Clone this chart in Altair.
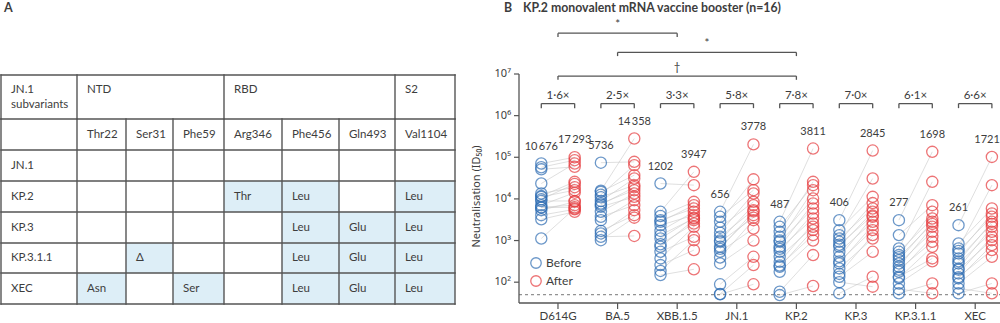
import altair as alt
import pandas as pd

# ---------------- data: panel B ----------------
variants = ["D614G", "BA.5", "XBB.1.5", "JN.1", "KP.2", "KP.3", "KP.3.1.1", "XEC"]
gmt_before = [10676, 5736, 1202, 656, 487, 406, 277, 261]
gmt_after = [17293, 14358, 3947, 3778, 3811, 2845, 1698, 1721]
fold_change = ["1·6×", "2·5×", "3·3×", "5·8×", "7·8×", "7·0×", "6·1×", "6·6×"]

before_d614g = [70800, 57500, 51300, 23400, 13500, 11700, 11200, 9770, 8910, 7080, 6310, 6170, 5370, 4070, 3240, 1120]
after_d614g = [100000, 85100, 58900, 70800, 19100, 25700, 16200, 22900, 8910, 14100, 7080, 6310, 8510, 5620, 4900, 5890]
before_ba5 = [74100, 15800, 14800, 12600, 11000, 8910, 7760, 7240, 6460, 4900, 3720, 3090, 1700, 1480, 1230, 1020]
after_ba5 = [77600, 282000, 37200, 64600, 21400, 30900, 16200, 19100, 11200, 13500, 7080, 9330, 4070, 5370, 1290, 3550]
before_xbb = [23400, 4900, 3890, 3090, 2820, 2340, 1700, 1350, 1120, 813, 708, 537, 372, 257, 186, 148]
after_xbb = [21400, 44700, 8510, 5890, 7080, 4070, 4900, 3390, 3550, 2570, 3090, 1230, 2140, 589, 1020, 204]
before_jn1 = [4900, 3720, 2820, 2040, 1550, 1230, 1000, 933, 708, 631, 537, 389, 282, 89, 52, 51]
after_jn1 = [204000, 16200, 29500, 8510, 13500, 5370, 7080, 3550, 4070, 5010, 1950, 3090, 1000, 407, 257, 89]
before_kp2 = [2820, 2140, 1620, 1230, 1000, 933, 708, 631, 537, 407, 309, 251, 234, 178, 59, 49]
after_kp2 = [162000, 21400, 25700, 10200, 16200, 5890, 7760, 3390, 4470, 2140, 2570, 1350, 1780, 1000, 447, 81]
before_kp3 = [3090, 1780, 1350, 1120, 933, 794, 708, 537, 407, 316, 282, 214, 158, 135, 100, 54]
after_kp3 = [145000, 11200, 30900, 5890, 7940, 3980, 4900, 2820, 3720, 1780, 2340, 1120, 1350, 537, 78, 135]
before_kp311 = [3090, 1350, 646, 537, 447, 398, 339, 282, 234, 200, 178, 135, 126, 93, 68, 54]
after_kp311 = [135000, 7080, 25700, 3390, 4900, 2510, 2820, 1620, 2140, 933, 1230, 372, 708, 316, 54, 93]
before_xec = [2340, 851, 646, 562, 490, 372, 316, 282, 214, 200, 162, 132, 123, 93, 71, 54]
after_xec = [102000, 5890, 21400, 3720, 4470, 2510, 2820, 1620, 2140, 1020, 1230, 589, 776, 407, 54, 93]

before_values = [before_d614g, before_ba5, before_xbb, before_jn1, before_kp2, before_kp3, before_kp311, before_xec]
after_values = [after_d614g, after_ba5, after_xbb, after_jn1, after_kp2, after_kp3, after_kp311, after_xec]

detection_limit = 50
y_tick_exponents = [2, 3, 4, 5, 6, 7]
y_title = "Neutralisation (ID₅₀)"
comp_from = ["D614G", "BA.5", "D614G"]
comp_to = ["XBB.1.5", "KP.2", "KP.2"]
comp_mark = ["*", "*", "†"]

# ---------------- data: panel A ----------------
table_rows = ["JN.1", "KP.2", "KP.3", "KP.3.1.1", "XEC"]
table_positions = ["Thr22", "Ser31", "Phe59", "Arg346", "Phe456", "Gln493", "Val1104"]
table_regions = ["NTD", "RBD", "S2"]
region_span = [3, 3, 1]
mut_jn1 = ["", "", "", "", "", "", ""]
mut_kp2 = ["", "", "", "Thr", "Leu", "", "Leu"]
mut_kp3 = ["", "", "", "", "Leu", "Glu", "Leu"]
mut_kp311 = ["", "Δ", "", "", "Leu", "Glu", "Leu"]
mut_xec = ["Asn", "", "Ser", "", "Leu", "Glu", "Leu"]
mutations = [mut_jn1, mut_kp2, mut_kp3, mut_kp311, mut_xec]

# ---------------- layout & style ----------------
PAGE_W, PAGE_H = 1000, 323
PLOT_LEFT, PLOT_RIGHT, PLOT_TOP, PLOT_BOTTOM = 519, 1000, 74, 303
X_DOMAIN = [-0.654, 7.416]
Y_DOMAIN = [10 ** 1.5, 1e7]
DODGE = 0.28
FOLD_LEVEL, FOLD_FOOT, FOLD_TEXT = 6.29, 6.18, 6.47
COMP_LEVELS = [7.98, 7.52, 6.95]
COMP_FOOT, COMP_TEXT = 0.09, 0.2

TABLE_LEFT, TABLE_TOP = 1, 75
col_widths = [76, 49, 47, 51, 58, 57, 56, 60]
row_heights = [44, 31, 31, 31, 31, 30, 31]
CELL_PAD = 10
HEADER_PAD = 9

BLUE = "#2f6db3"
RED = "#e63a3d"
TEXT = "#3d3d3d"
LINE = "#555555"
SHADE = "#ddeef7"
FONT = "Lato"
SUPFONT = "Noto Sans"
FS = 11.5

# ---------------- panel A (table) ----------------
col_edges = [0]
for w in col_widths:
    col_edges.append(col_edges[-1] + w)
row_edges = [0]
for h in row_heights:
    row_edges.append(row_edges[-1] + h)

tx = alt.Scale(domain=[0, col_edges[-1]], range=[TABLE_LEFT, TABLE_LEFT + col_edges[-1]], nice=False, zero=False)
ty = alt.Scale(domain=[0, row_edges[-1]], range=[TABLE_TOP, TABLE_TOP + row_edges[-1]], nice=False, zero=False)

shade_rows, cell_rows = [], []
for c, p in enumerate(table_positions):
    cell_rows.append(dict(x=col_edges[c + 1] + CELL_PAD, y=(row_edges[1] + row_edges[2]) / 2, t=p))
for r, name in enumerate(table_rows):
    yc = (row_edges[r + 2] + row_edges[r + 3]) / 2
    cell_rows.append(dict(x=col_edges[0] + CELL_PAD, y=yc, t=name))
    for c, m in enumerate(mutations[r]):
        if m:
            shade_rows.append(dict(x0=col_edges[c + 1], x1=col_edges[c + 2], y0=row_edges[r + 2], y1=row_edges[r + 3]))
            cell_rows.append(dict(x=col_edges[c + 1] + CELL_PAD, y=yc, t=m))

head_rows = [dict(x=col_edges[0] + CELL_PAD, y=row_edges[0] + HEADER_PAD, t="JN.1\nsubvariants")]
group_edges = [0]
k = 0
for reg, span in zip(table_regions, region_span):
    head_rows.append(dict(x=col_edges[k + 1] + CELL_PAD, y=row_edges[0] + HEADER_PAD, t=reg))
    group_edges.append(k + 1)
    k += span
group_edges.append(len(col_edges) - 1)

line_rows = []
for ye in row_edges:
    line_rows.append(dict(x=0, x2=col_edges[-1], y=ye, y2=ye))
for gi in group_edges:
    line_rows.append(dict(x=col_edges[gi], x2=col_edges[gi], y=row_edges[0], y2=row_edges[1]))
for xe in col_edges:
    line_rows.append(dict(x=xe, x2=xe, y=row_edges[1], y2=row_edges[-1]))

shade = alt.Chart(pd.DataFrame(shade_rows)).mark_rect(fill=SHADE).encode(
    x=alt.X("x0:Q", scale=tx, axis=None), x2="x1:Q",
    y=alt.Y("y0:Q", scale=ty, axis=None), y2="y1:Q")
grid = alt.Chart(pd.DataFrame(line_rows)).mark_rule(color=LINE, strokeWidth=1.4, strokeCap="square").encode(
    x=alt.X("x:Q", scale=tx, axis=None), x2="x2:Q",
    y=alt.Y("y:Q", scale=ty, axis=None), y2="y2:Q")
cells = alt.Chart(pd.DataFrame(cell_rows)).mark_text(
    align="left", baseline="middle", font=FONT, fontSize=FS, color=TEXT).encode(
    x=alt.X("x:Q", scale=tx, axis=None), y=alt.Y("y:Q", scale=ty, axis=None), text="t:N")
heads = alt.Chart(pd.DataFrame(head_rows)).mark_text(
    align="left", baseline="top", font=FONT, fontSize=FS, color=TEXT, lineBreak="\n", lineHeight=15).encode(
    x=alt.X("x:Q", scale=tx, axis=None), y=alt.Y("y:Q", scale=ty, axis=None), text="t:N")
letter_a = alt.Chart(pd.DataFrame({"t": ["A"]})).mark_text(
    align="left", baseline="middle", font=FONT, fontSize=12.5, fontWeight="bold", color=TEXT).encode(
    x=alt.value(4), y=alt.value(8), text="t:N")
table_layer = alt.layer(shade, grid, cells, heads, letter_a)

# ---------------- panel B (plot) ----------------
xs = alt.Scale(domain=X_DOMAIN, range=[PLOT_LEFT, PLOT_RIGHT], nice=False, zero=False)
ys = alt.Scale(type="log", domain=Y_DOMAIN, range=[PLOT_BOTTOM, PLOT_TOP], nice=False)


def fmt(n):
    return f"{n // 1000}\u2009{n % 1000:03d}" if n >= 10000 else str(n)


pts, pairs, labs, folds, feet, brackets = [], [], [], [], [], []
last = len(variants) - 1
for i, v in enumerate(variants):
    b, a = before_values[i], after_values[i]
    for vb, va in zip(b, a):
        pts.append(dict(xpos=i - DODGE, value=vb, when="Before"))
        pts.append(dict(xpos=i + DODGE, value=va, when="After"))
        pairs.append(dict(x0=i - DODGE, x1=i + DODGE, v0=vb, v1=va))
    labs.append(dict(xpos=i - DODGE, value=max(b), t=fmt(gmt_before[i]), edge=False))
    labs.append(dict(xpos=i + DODGE, value=max(a), t=fmt(gmt_after[i]), edge=(i == last)))
    folds.append(dict(xc=i, y=10 ** FOLD_TEXT, t=fold_change[i]))
    brackets.append(dict(x=i - DODGE, x2=i + DODGE, y=10 ** FOLD_LEVEL, y2=10 ** FOLD_LEVEL))
    for s in (-1, 1):
        feet.append(dict(x=i + s * DODGE, x2=i + s * DODGE, y=10 ** FOLD_LEVEL, y2=10 ** FOLD_FOOT))

comp_text = []
for f, t, m, lvl in zip(comp_from, comp_to, comp_mark, COMP_LEVELS):
    i0, i1 = variants.index(f), variants.index(t)
    brackets.append(dict(x=i0, x2=i1, y=10 ** lvl, y2=10 ** lvl))
    for xi in (i0, i1):
        feet.append(dict(x=xi, x2=xi, y=10 ** lvl, y2=10 ** (lvl - COMP_FOOT)))
    comp_text.append(dict(xc=(i0 + i1) / 2, y=10 ** (lvl + COMP_TEXT), t=m))

# axes drawn from the scales
sup = {2: "²", 3: "³", 4: "⁴", 5: "⁵", 6: "⁶", 7: "⁷"}
axis_lines = pd.DataFrame([
    dict(x=X_DOMAIN[0], x2=X_DOMAIN[0], y=Y_DOMAIN[0], y2=Y_DOMAIN[1]),
    dict(x=X_DOMAIN[0], x2=X_DOMAIN[1], y=Y_DOMAIN[0], y2=Y_DOMAIN[0]),
])
y_ticks = pd.DataFrame([dict(x=X_DOMAIN[0], y=10 ** e, t="10" + sup[e]) for e in y_tick_exponents])
x_ticks = pd.DataFrame([dict(x=i, y=Y_DOMAIN[0], t=v) for i, v in enumerate(variants)])
y_title_df = pd.DataFrame([dict(x=X_DOMAIN[0], y=10 ** ((1.5 + 7) / 2), t=y_title)])

ax_lines = alt.Chart(axis_lines).mark_rule(color=LINE, strokeWidth=1.3).encode(
    x=alt.X("x:Q", scale=xs, axis=None), x2="x2:Q",
    y=alt.Y("y:Q", scale=ys, axis=None), y2="y2:Q")
yt_marks = alt.Chart(y_ticks).mark_rule(color=LINE, strokeWidth=1.2, x2Offset=-5).encode(
    x=alt.X("x:Q", scale=xs, axis=None), x2="x:Q", y=alt.Y("y:Q", scale=ys, axis=None))
yt_labels = alt.Chart(y_ticks).mark_text(
    align="right", baseline="middle", xOffset=-8, font=SUPFONT, fontSize=11, color=TEXT).encode(
    x=alt.X("x:Q", scale=xs, axis=None), y=alt.Y("y:Q", scale=ys, axis=None), text="t:N")
xt_marks = alt.Chart(x_ticks).mark_rule(color=LINE, strokeWidth=1.2, y2Offset=6).encode(
    x=alt.X("x:Q", scale=xs, axis=None), y=alt.Y("y:Q", scale=ys, axis=None), y2="y:Q")
xt_labels = alt.Chart(x_ticks).mark_text(
    align="center", baseline="middle", yOffset=14, font=FONT, fontSize=FS, color=TEXT).encode(
    x=alt.X("x:Q", scale=xs, axis=None), y=alt.Y("y:Q", scale=ys, axis=None), text="t:N")
y_title_mark = alt.Chart(y_title_df).mark_text(
    align="center", baseline="middle", angle=270, xOffset=-42, yOffset=8, font=SUPFONT, fontSize=11,
    color=TEXT).encode(
    x=alt.X("x:Q", scale=xs, axis=None), y=alt.Y("y:Q", scale=ys, axis=None), text="t:N")

dash = alt.Chart(pd.DataFrame({"x": [X_DOMAIN[0]], "x2": [X_DOMAIN[1]], "y": [detection_limit]})).mark_rule(
    color="#777777", strokeDash=[3, 3], strokeWidth=1).encode(
    x=alt.X("x:Q", scale=xs, axis=None), x2="x2:Q", y=alt.Y("y:Q", scale=ys, axis=None))
links = alt.Chart(pd.DataFrame(pairs)).mark_rule(color="#c9c9c9", strokeWidth=0.7, opacity=0.85).encode(
    x=alt.X("x0:Q", scale=xs, axis=None), x2="x1:Q",
    y=alt.Y("v0:Q", scale=ys, axis=None), y2="v1:Q")
points = alt.Chart(pd.DataFrame(pts)).mark_point(shape="circle", filled=False, size=125, strokeWidth=1.3).encode(
    x=alt.X("xpos:Q", scale=xs, axis=None),
    y=alt.Y("value:Q", scale=ys, axis=None),
    color=alt.Color("when:N", scale=alt.Scale(domain=["Before", "After"], range=[BLUE, RED]),
                    legend=alt.Legend(orient="none", legendX=530, legendY=257, title=None, symbolType="circle",
                                      symbolSize=110, symbolStrokeWidth=1.3, labelFont=FONT, labelFontSize=12,
                                      labelColor=TEXT, rowPadding=2, labelOffset=4)))
labs_df = pd.DataFrame(labs)
gmt_text = alt.Chart(labs_df).transform_filter("!datum.edge").mark_text(
    baseline="middle", dy=-17, font=FONT, fontSize=11, color=TEXT).encode(
    x=alt.X("xpos:Q", scale=xs, axis=None), y=alt.Y("value:Q", scale=ys, axis=None), text="t:N")
gmt_text_edge = alt.Chart(labs_df).transform_filter("datum.edge").mark_text(
    baseline="middle", align="right", dx=8, dy=-17, font=FONT, fontSize=11, color=TEXT).encode(
    x=alt.X("xpos:Q", scale=xs, axis=None), y=alt.Y("value:Q", scale=ys, axis=None), text="t:N")
bracket_h = alt.Chart(pd.DataFrame(brackets + feet)).mark_rule(color=LINE, strokeWidth=1.3).encode(
    x=alt.X("x:Q", scale=xs, axis=None), x2="x2:Q",
    y=alt.Y("y:Q", scale=ys, axis=None), y2="y2:Q")
fold_text = alt.Chart(pd.DataFrame(folds + comp_text)).mark_text(
    baseline="middle", font=FONT, fontSize=FS, color=TEXT).encode(
    x=alt.X("xc:Q", scale=xs, axis=None), y=alt.Y("y:Q", scale=ys, axis=None), text="t:N")
title_b = alt.Chart(pd.DataFrame({"t": ["B", "KP.2 monovalent mRNA vaccine booster (n=16)"],
                                  "px": [504, 523]})).mark_text(
    align="left", baseline="middle", font=FONT, fontSize=12.3, fontWeight="bold", color=TEXT).encode(
    x=alt.X("px:Q", scale=alt.Scale(domain=[0, PAGE_W], range=[0, PAGE_W], nice=False, zero=False), axis=None),
    y=alt.value(8), text="t:N")

plot_layer = alt.layer(dash, links, ax_lines, yt_marks, yt_labels, xt_marks, xt_labels, y_title_mark,
                       points, gmt_text, gmt_text_edge, bracket_h, fold_text)

chart = alt.layer(table_layer, plot_layer, title_b).resolve_scale(
    x="independent", y="independent").properties(
    width=PAGE_W, height=PAGE_H, autosize=alt.AutoSizeParams(type="none"), padding=0,
    background="white").configure_view(stroke=None)

chart.save("out.html", embed_options={"renderer": "svg", "actions": False})
